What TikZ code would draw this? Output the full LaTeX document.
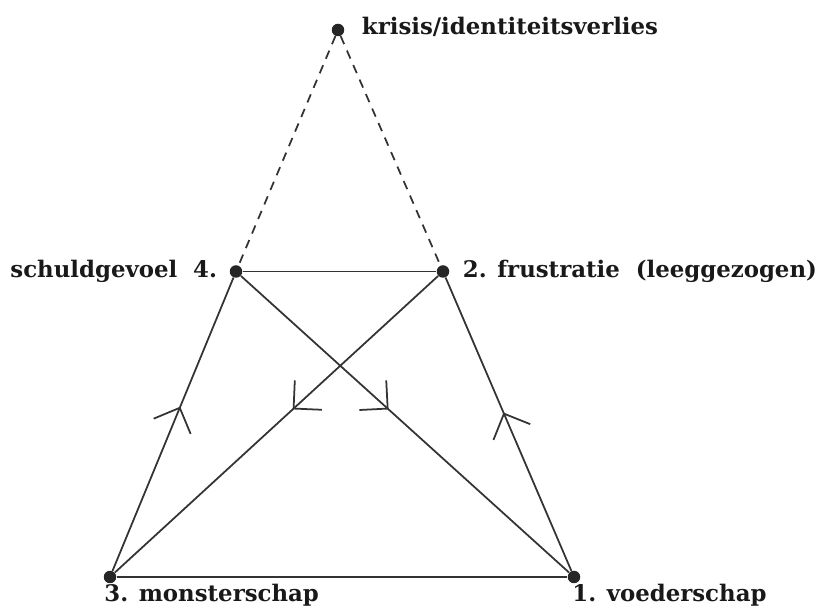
\documentclass[tikz,border=0pt]{standalone}
\usepackage{fontspec}
\setmainfont{DejaVu Serif}
\usepackage{tikz}
\usetikzlibrary{arrows.meta,positioning,decorations.markings}

\tikzset{
  dot/.style={circle,fill=black!85,inner sep=0pt,minimum size=0.25cm},
  lbl/.style={font=\bfseries\fontsize{13}{15}\selectfont,text=black!90,inner sep=0pt},
  edge/.style={line width=1pt,draw=black!80},
  midarrow/.style={postaction={decorate},
    decoration={markings,mark=at position #1 with {\arrow{Straight Barb[length=4mm,width=8mm,line width=1pt]}}}}
}

\begin{document}
\begin{tikzpicture}

  \useasboundingbox (0,0) rectangle (16.5,12.18);

  % the five points
  \node[dot] (top) at (6.76,11.58) {};
  \node[dot] (n4) at (4.72,6.75) {};
  \node[dot] (n2) at (8.86,6.75) {};
  \node[dot] (n3) at (2.20,0.64) {};
  \node[dot] (n1) at (11.48,0.64) {};

  % labels
  \node[lbl,right=0.34cm of top,yshift=0.06cm] (crisis) {krisis/identiteitsverlies};
  \node[lbl,left=0.24cm of n4] (guilt) {schuldgevoel\ \ 4.};
  \node[lbl,right=0.26cm of n2] (frust) {2. frustratie\ \ (leeggezogen)};
  \node[lbl,anchor=base west] (monster) at ([shift={(-0.12,-0.5)}]n3) {3. monsterschap};
  \node[lbl,anchor=base west] (feed) at ([shift={(-0.04,-0.5)}]n1) {1. voederschap};

  % dashed top
  \draw[edge,dash pattern=on 5pt off 4pt] (top) -- (n4);
  \draw[edge,dash pattern=on 5pt off 4pt] (top) -- (n2);

  % the cycle
  \draw[edge] (n4) -- (n2);
  \draw[edge] (n3) -- (n1);
  \draw[edge,midarrow=0.56] (n3) -- (n4);
  \draw[edge,midarrow=0.54] (n1) -- (n2);
  \draw[edge,midarrow=0.45] (n2) -- (n3);
  \draw[edge,midarrow=0.45] (n4) -- (n1);

\end{tikzpicture}
\end{document}
